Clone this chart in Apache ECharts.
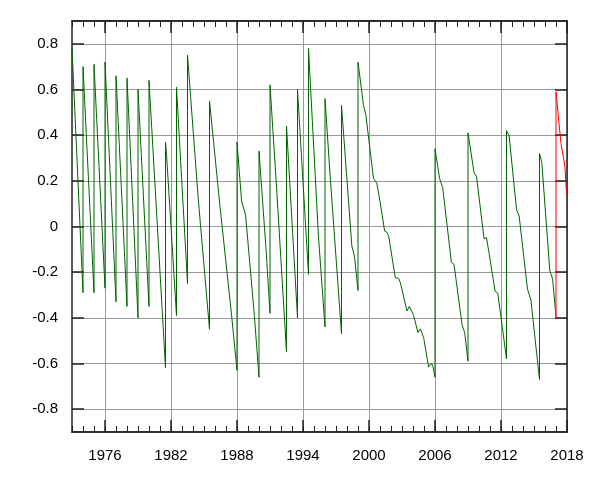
<!DOCTYPE html>
<html>
<head>
<meta charset="utf-8">
<script src="https://cdn.jsdelivr.net/npm/echarts@6/dist/echarts.min.js"></script>
<style>
html,body{margin:0;padding:0;background:#fff;}
#chart{width:600px;height:480px;}
</style>
</head>
<body>
<div id="chart"></div>
<script>
// Observed series (decimal year, value)
var obsYears = [
  1973.0, 1974.0, 1974.0, 1975.0, 1975.0, 1976.0, 1976.0, 1977.0, 1977.0, 1978.0,
  1978.0, 1979.0, 1979.0, 1980.0, 1980.0, 1981.5, 1981.5, 1981.6, 1982.5, 1982.5,
  1983.5, 1983.5, 1984.48, 1985.5, 1985.5, 1986.45, 1987.51, 1988.0, 1988.0, 1988.42,
  1988.78, 1989.58, 1990.0, 1990.0, 1990.64, 1991.0, 1991.0, 1991.61, 1992.5, 1992.5,
  1993.5, 1993.5, 1994.5, 1994.5, 1995.4, 1996.0, 1996.0, 1996.47, 1997.5, 1997.5,
  1998.44, 1998.68, 1999.0, 1999.0, 1999.5, 1999.71, 2000.41, 2000.71, 2001.02, 2001.42,
  2001.62, 2001.78, 2002.39, 2002.69, 2002.85, 2003.45, 2003.67, 2004.06, 2004.45, 2004.67,
  2004.97, 2005.42, 2005.67, 2005.81, 2006.0, 2006.0, 2006.42, 2006.7, 2007.49, 2007.73,
  2008.46, 2008.7, 2009.0, 2009.0, 2009.55, 2009.77, 2010.46, 2010.68, 2010.91, 2011.46,
  2011.71, 2012.5, 2012.5, 2012.74, 2013.41, 2013.65, 2014.41, 2014.71, 2015.5, 2015.5,
  2015.71, 2016.44, 2016.69, 2016.93
];
var obsValues = [
  0.78, -0.29, 0.70, -0.29, 0.71, -0.27, 0.72, -0.33, 0.66, -0.35,
  0.65, -0.40, 0.60, -0.35, 0.64, -0.62, 0.37, 0.31, -0.39, 0.61,
  -0.25, 0.75, 0.12, -0.45, 0.55, 0.09, -0.39, -0.63, 0.37, 0.11,
  0.05, -0.39, -0.66, 0.33, -0.10, -0.38, 0.62, 0.16, -0.55, 0.44,
  -0.40, 0.60, -0.21, 0.78, -0.04, -0.44, 0.56, 0.22, -0.47, 0.53,
  -0.085, -0.13, -0.28, 0.72, 0.53, 0.49, 0.21, 0.19, 0.105, -0.02,
  -0.025, -0.04, -0.224, -0.227, -0.246, -0.37, -0.35, -0.39, -0.465, -0.448,
  -0.487, -0.615, -0.60, -0.612, -0.66, 0.34, 0.21, 0.17, -0.156, -0.166,
  -0.43, -0.465, -0.59, 0.41, 0.236, 0.219, -0.053, -0.049, -0.115, -0.283,
  -0.293, -0.58, 0.42, 0.397, 0.075, 0.046, -0.275, -0.319, -0.67, 0.32,
  0.28, -0.195, -0.229, -0.356
];
// Predicted series
var predYears = [2016.93, 2017.0, 2017.0, 2017.44, 2017.65, 2017.81, 2017.96];
var predValues = [-0.356, -0.40, 0.59, 0.368, 0.309, 0.265, 0.141];

// Tick labels
var xTickYears = [1976, 1982, 1988, 1994, 2000, 2006, 2012, 2018];
var yTicks = [-0.8, -0.6, -0.4, -0.2, 0, 0.2, 0.4, 0.6, 0.8];

function pairs(xs, ys) {
  var out = [];
  for (var i = 0; i < xs.length; i++) out.push([xs[i], ys[i]]);
  return out;
}

var frameLine = {show: true, onZero: false, lineStyle: {color: '#222', width: 1.5}};
var labelFont = {fontFamily: 'Liberation Sans', fontSize: 15, color: '#000'};
var gridLine = {show: true, lineStyle: {color: '#999', width: 1}};

var chart = echarts.init(document.getElementById('chart'), null, {renderer: 'canvas'});
chart.setOption({
  animation: false,
  backgroundColor: '#fff',
  grid: {left: 72, right: 33, top: 21, bottom: 48, containLabel: false},
  xAxis: [
    {type: 'value', position: 'bottom', min: 1973, max: 2018, interval: 1,
     axisLine: frameLine,
     axisTick: {show: true, inside: true, length: 6, lineStyle: {color: '#222', width: 1}},
     axisLabel: {show: false}, splitLine: {show: false}},
    {type: 'value', position: 'bottom', min: 1973, max: 2018,
     axisLine: frameLine,
     axisTick: {show: true, inside: true, length: 12, customValues: xTickYears, lineStyle: {color: '#222', width: 1.5}},
     axisLabel: Object.assign({show: true, margin: 16, customValues: xTickYears,
       formatter: function (v) { return String(Math.round(v)); }}, labelFont),
     splitLine: gridLine},
    {type: 'value', position: 'top', min: 1973, max: 2018, interval: 1,
     axisLine: frameLine,
     axisTick: {show: true, inside: true, length: 6, lineStyle: {color: '#222', width: 1}},
     axisLabel: {show: false}, splitLine: {show: false}},
    {type: 'value', position: 'top', min: 1973, max: 2018,
     axisLine: frameLine,
     axisTick: {show: true, inside: true, length: 12, customValues: xTickYears, lineStyle: {color: '#222', width: 1.5}},
     axisLabel: {show: false}, splitLine: {show: false}}
  ],
  yAxis: [
    {type: 'value', position: 'left', min: -0.9, max: 0.9,
     axisLine: frameLine,
     axisTick: {show: true, inside: true, length: 12, customValues: yTicks, lineStyle: {color: '#222', width: 1.5}},
     axisLabel: Object.assign({show: true, margin: 14, customValues: yTicks,
       formatter: function (v) { var r = Math.round(v * 10) / 10; return r === 0 ? '0' : String(r); }}, labelFont),
     splitLine: gridLine},
    {type: 'value', position: 'right', min: -0.9, max: 0.9,
     axisLine: frameLine,
     axisTick: {show: true, inside: true, length: 12, customValues: yTicks, lineStyle: {color: '#222', width: 1.5}},
     axisLabel: {show: false}, splitLine: {show: false}}
  ],
  series: [
    {type: 'line', xAxisIndex: 0, yAxisIndex: 0, data: pairs(obsYears, obsValues),
     showSymbol: false, symbol: 'none', lineStyle: {color: '#006400', width: 1}, z: 3},
    {type: 'line', xAxisIndex: 0, yAxisIndex: 0, data: pairs(predYears, predValues),
     showSymbol: false, symbol: 'none', lineStyle: {color: '#ff0000', width: 1}, z: 4}
  ]
});
</script>
</body>
</html>
